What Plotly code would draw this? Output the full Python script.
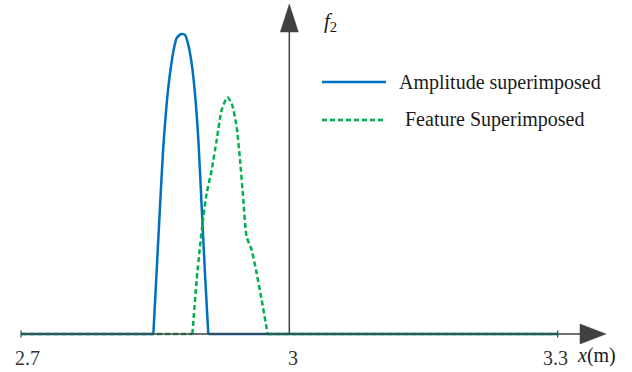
import plotly.graph_objects as go

# ---- data ----
amp_x = [2.7, 2.8480, 2.8554, 2.8591, 2.8629, 2.8666, 2.8703, 2.8740, 2.8789, 2.8834,
         2.8871, 2.8908, 2.8945, 2.8983, 2.9020, 2.9057, 2.9094, 3.3]
amp_y = [0, 0, 0.424, 0.624, 0.769, 0.869, 0.941, 0.986, 1.0, 0.997,
         0.963, 0.902, 0.802, 0.647, 0.424, 0.202, 0, 0]

feat_x = [2.7, 2.8916, 2.8964, 2.9001, 2.9039, 2.9076, 2.9132, 2.9188, 2.9244, 2.9307,
          2.9355, 2.9411, 2.9449, 2.9486, 2.9523, 2.9579, 2.9635, 2.9691, 2.9758, 3.3]
feat_y = [0, 0, 0.18, 0.291, 0.391, 0.469, 0.547, 0.647, 0.747, 0.789,
          0.769, 0.691, 0.58, 0.447, 0.324, 0.28, 0.202, 0.113, 0, 0]

tick_vals = [2.7, 3, 3.3]
tick_text = ["2.7", "3", "3.3"]
series_names = ["Amplitude superimposed", "Feature Superimposed"]
x_label = "<i>x</i>(m)"
y_label = "<i>f</i><sub>2</sub>"

# ---- layout geometry ----
W, H = 632, 372
X_RANGE = [2.67652, 3.38314]
Y_RANGE = [-0.1267, 1.1133]
BLUE = "#0070C0"
GREEN = "#00B050"
AXIS = "#404040"
FONT = "Liberation Serif"
TICK_SHIFT = [6, 4, -2]


def x2px(x):
    return (x - X_RANGE[0]) / (X_RANGE[1] - X_RANGE[0]) * W


def y2py(y):
    return (Y_RANGE[1] - y) / (Y_RANGE[1] - Y_RANGE[0]) * H


def px2x(px):
    return X_RANGE[0] + px / W * (X_RANGE[1] - X_RANGE[0])


def py2y(py):
    return Y_RANGE[1] - py / H * (Y_RANGE[1] - Y_RANGE[0])


fig = go.Figure()

shapes = []
# x axis line
x_tip_px = 606
x_base_px = 580
shapes.append(dict(type="line", xref="x", yref="y", x0=tick_vals[0], x1=px2x(x_base_px),
                   y0=0, y1=0, line=dict(color=AXIS, width=1.5)))
# y axis line
y_tip_py = 4
y_base_py = 32
shapes.append(dict(type="line", xref="x", yref="y", x0=3, x1=3, y0=0, y1=py2y(y_base_py),
                   line=dict(color=AXIS, width=1.5)))
# arrowheads
zx, zy = x2px(3), y2py(0)
shapes.append(dict(type="path", xref="x", yref="y",
                   path=f"M{px2x(x_base_px)},{py2y(zy-10)} L{px2x(x_tip_px)},{py2y(zy)} L{px2x(x_base_px)},{py2y(zy+10)} Z",
                   fillcolor=AXIS, line=dict(color=AXIS, width=0.5)))
shapes.append(dict(type="path", xref="x", yref="y",
                   path=f"M{px2x(zx-9)},{py2y(y_base_py)} L{px2x(zx)},{py2y(y_tip_py)} L{px2x(zx+9)},{py2y(y_base_py)} Z",
                   fillcolor=AXIS, line=dict(color=AXIS, width=0.5)))
# small end ticks
for tv in (tick_vals[0], tick_vals[-1]):
    shapes.append(dict(type="line", xref="x", yref="y", x0=tv, x1=tv,
                       y0=py2y(zy - 3.5), y1=py2y(zy + 3.5),
                       line=dict(color="#1f4e79", width=1.2)))


def add_series(xs, ys, color, dash):
    # flat baseline parts (linear) and the bump (smooth)
    for seg_x, seg_y in ((xs[:2], ys[:2]), (xs[-2:], ys[-2:])):
        fig.add_trace(go.Scatter(x=seg_x, y=seg_y, mode="lines", showlegend=False,
                                 line=dict(color=color, width=2.5, dash=dash)))
    fig.add_trace(go.Scatter(x=xs[1:-1], y=ys[1:-1], mode="lines", showlegend=False,
                             line=dict(color=color, width=2.5, dash=dash,
                                       shape="spline", smoothing=0.6)))


add_series(amp_x, amp_y, BLUE, "solid")
add_series(feat_x, feat_y, GREEN, "5px,3px")

# manual legend
leg_rows = [(82, BLUE, "solid", 397), (120, GREEN, "5px,3px", 403)]
annotations = []
for (py, col, dash, tx), name in zip(leg_rows, series_names):
    shapes.append(dict(type="line", xref="paper", yref="paper",
                       x0=322 / W, x1=386 / W, y0=1 - py / H, y1=1 - py / H,
                       line=dict(color=col, width=2.5, dash=dash)))
    annotations.append(dict(xref="paper", yref="paper", x=tx / W, y=1 - py / H,
                            xanchor="left", yanchor="middle", showarrow=False,
                            text=name, font=dict(family=FONT, size=20, color="#1a1a1a")))

# tick labels
for tv, tt, sh in zip(tick_vals, tick_text, TICK_SHIFT):
    annotations.append(dict(xref="x", yref="paper", x=tv, y=1 - 357.5 / H,
                            xanchor="center", yanchor="middle", showarrow=False, xshift=sh,
                            text=tt, font=dict(family=FONT, size=20, color="#333333")))

# axis labels
annotations.append(dict(xref="paper", yref="paper", x=596 / W, y=1 - 355 / H,
                        xanchor="center", yanchor="middle", showarrow=False,
                        text=x_label, font=dict(family=FONT, size=20, color="#1a1a1a")))
annotations.append(dict(xref="paper", yref="paper", x=330 / W, y=1 - 22 / H,
                        xanchor="center", yanchor="middle", showarrow=False,
                        text=y_label, font=dict(family=FONT, size=21, color="#1a1a1a")))

fig.update_layout(
    width=W, height=H, autosize=False,
    margin=dict(l=0, r=0, t=0, b=0, pad=0),
    paper_bgcolor="white", plot_bgcolor="white",
    xaxis=dict(range=X_RANGE, visible=False, fixedrange=True),
    yaxis=dict(range=Y_RANGE, visible=False, fixedrange=True),
    shapes=shapes, annotations=annotations, showlegend=False,
)

fig.write_html("out.html")
